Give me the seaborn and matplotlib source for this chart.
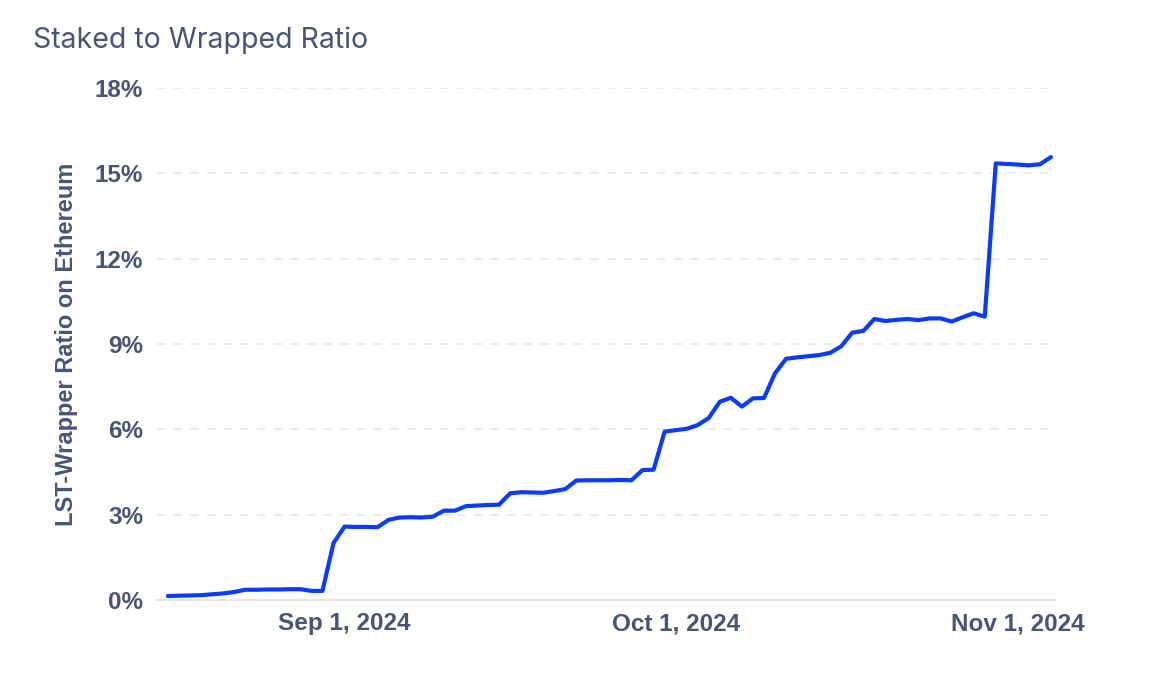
import pandas as pd
import numpy as np
import matplotlib
matplotlib.use("Agg")
import matplotlib.pyplot as plt
import matplotlib.dates as mdates
from matplotlib.ticker import FuncFormatter
import seaborn as sns

# Daily ratio values (percent)
start_date = "2024-08-16"
ratio_pct = [
    0.14, 0.15, 0.16, 0.17, 0.20, 0.23, 0.28, 0.36,            # Aug 16-23
    0.36, 0.37, 0.37, 0.38, 0.38, 0.32, 0.32, 2.00,            # Aug 24-31
    2.58, 2.57, 2.57, 2.56, 2.82, 2.90, 2.91, 2.90, 2.93, 3.14,  # Sep 1-10
    3.14, 3.30, 3.32, 3.34, 3.35, 3.75, 3.79, 3.78, 3.77, 3.83,  # Sep 11-20
    3.90, 4.20, 4.21, 4.21, 4.21, 4.22, 4.21, 4.57, 4.58, 5.92,  # Sep 21-30
    5.97, 6.02, 6.15, 6.40, 6.97, 7.11, 6.80, 7.09, 7.10, 7.97,  # Oct 1-10
    8.48, 8.53, 8.57, 8.61, 8.69, 8.92, 9.40, 9.46, 9.88, 9.81,  # Oct 11-20
    9.85, 9.88, 9.84, 9.90, 9.90, 9.79, 9.94, 10.08, 9.96, 15.35,  # Oct 21-30
    15.33, 15.31, 15.28, 15.32, 15.57,                          # Oct 31-Nov 4
]
dates = pd.date_range(start_date, periods=len(ratio_pct), freq="D")
df = pd.DataFrame({"date": dates, "ratio": ratio_pct})

y_ticks = [0, 3, 6, 9, 12, 15, 18]
x_ticks = ["2024-09-01", "2024-10-01", "2024-11-01"]

text_color = "#4a5575"
line_color = "#0a3cff"

sns.set_style("white")
plt.rcParams["font.family"] = ["Liberation Sans", "DejaVu Sans"]

fig = plt.figure(figsize=(11.62, 6.74), dpi=100)
ax = fig.add_axes([0.135, 0.1098, 0.773, 0.7596])

sns.lineplot(data=df, x="date", y="ratio", ax=ax, color=line_color, linewidth=3)

ax.set_ylim(0, 18)
ax.set_yticks(y_ticks)
ax.yaxis.set_major_formatter(FuncFormatter(lambda v, _: f"{v:.0f}%"))
ax.set_xlim(pd.Timestamp("2024-08-15"), pd.Timestamp("2024-11-04 09:00"))
ax.set_xticks(pd.to_datetime(x_ticks))
ax.xaxis.set_major_formatter(mdates.DateFormatter("%b %-d, %Y"))

ax.grid(axis="y", color="#e8e8e8", linestyle=(0, (5, 5)), linewidth=1.2)
ax.grid(axis="x", visible=False)
for s in ["top", "right", "left"]:
    ax.spines[s].set_visible(False)
ax.spines["bottom"].set_color("#e6e6e6")
ax.spines["bottom"].set_linewidth(1.5)

ax.tick_params(axis="both", length=0, labelsize=17.5, labelcolor=text_color)
ax.tick_params(axis="y", pad=10)
ax.tick_params(axis="x", pad=9)
for lbl in ax.get_xticklabels() + ax.get_yticklabels():
    lbl.set_fontweight("bold")

ax.set_xlabel("")
ax.set_ylabel("LST-Wrapper Ratio on Ethereum", fontsize=17, fontweight="bold",
              color=text_color, labelpad=12)

fig.text(0.028, 0.94, "Staked to Wrapped Ratio", fontsize=20.5, color=text_color,
         family=["Inter", "DejaVu Sans"], va="center", ha="left")

fig.savefig("out.png", dpi=100)
